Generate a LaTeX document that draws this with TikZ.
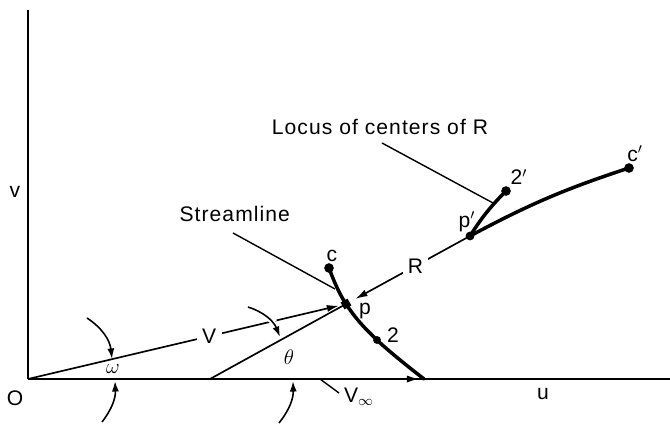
\documentclass[tikz,border=0pt]{standalone}
\usepackage{fontspec}
\setmainfont[LetterSpace=5]{Liberation Sans}
\usetikzlibrary{arrows.meta,positioning,calc}

\begin{document}
\begin{tikzpicture}[x=0.02cm, y=-0.02cm,
  axisv/.style={line width=1.7pt},
  axish/.style={line width=1.2pt},
  ray/.style={line width=0.95pt},
  vec/.style={ray, -{Latex[length=7pt,width=4pt]}},
  curve/.style={line width=2pt, line cap=round},
  dot/.style={circle, fill=black, inner sep=0pt, minimum size=5.5pt},
  lab/.style={font=\fontsize{12}{14}\selectfont, inner sep=1pt},
  gaplab/.style={lab, fill=white, inner sep=3pt},
  leader/.style={line width=0.8pt},
  turn/.style={line width=0.9pt, -{Latex[length=6pt,width=4pt]}},
]
\useasboundingbox (0,0) rectangle (670,435);

% axes and points (pixel units, y downwards)
\coordinate (O) at (28,379);
\coordinate (vtop) at (28,10);
\coordinate (uend) at (670,379);
\coordinate (foot) at (210,379);   % where the line through p and p' meets u
\coordinate (p) at (346,304);
\coordinate (pp) at (470,236);
\coordinate (vinf) at (421,379);
\coordinate (send) at (424,379);   % streamline reaches the u axis

\draw[axisv] (vtop) -- (O);
\draw[axish] (O) -- (uend);
\draw[vec, shorten >=1pt] (O) -- (vinf);

% velocity V and radius R
\draw[vec, shorten >=4pt] (O) -- node[gaplab, pos=0.57] (Vlab) {V} (p);
\draw[ray] (foot) -- (p);
\draw[vec, shorten >=6pt] (pp) -- node[gaplab, pos=0.44] (Rlab) {R} (p);

% streamline c - p - 2
\node[dot] (c) at (329,268) {};
\node[dot, minimum size=4.5pt] (two) at (377,340) {};
\draw[curve] plot[smooth, tension=0.7] coordinates {(c.center) (p) (two.center) (send)};
\node[fill=black, minimum size=4.5pt, inner sep=0pt, rotate=30] (pdot) at (p) {};

% locus of centers
\node[dot, minimum size=5pt] (ppdot) at (pp) {};
\node[dot] (twop) at (506,191) {};
\node[dot] (cp) at (629,168) {};
\draw[curve] (ppdot.center) to[bend left=5] (cp.center);
\draw[curve] (ppdot.center) to[bend left=6] (twop.center);

% labels
\node[lab] (clab) at (332,256) {c};
\node[lab] (plab) at (365,311) {p};
\node[lab] (twolab) at (393,335) {2};
\node[lab] (pplab) at (467,222) {p$'$};
\node[lab] (twoplab) at (519,177) {2$'$};
\node[lab] (cplab) at (635,154) {c$'$};
\node[lab] (Olab) at (15,398) {O};
\node[lab] (vlab) at (15,192) {v};
\node[lab] (ulab) at (543,394) {u};
\node[lab] (wlab) at (113,369) {$\omega$};
\node[lab] (thlab) at (289,357) {$\theta$};
\node[lab, anchor=west] (vinflab) at (342,397) {V$_\infty$};
\node[lab, anchor=east] (strlab) at (292,214) {Streamline};
\node[lab] (loclab) at (380,127) {Locus of centers of R};

% leaders
\coordinate (strA) at (233,233);
\coordinate (strB) at (335,289);
\coordinate (locA) at (382,143);
\coordinate (locB) at (493,203);
\coordinate (vinfA) at (320,379);
\coordinate (vinfB) at (339,393);
\draw[leader] (strA) -- (strB);
\draw[leader] (locA) -- (locB);
\draw[leader] (vinfA) -- (vinfB);

% angle markers
\coordinate (wA) at (87,318);
\coordinate (wB) at (112,359);
\coordinate (wC) at (102,422);
\coordinate (wD) at (115,381);
\coordinate (tA) at (248,307);
\coordinate (tB) at (280,337);
\coordinate (tC) at (279,423);
\coordinate (tD) at (293,381);
\draw[turn] (wA) to[bend left=25] (wB);
\draw[turn] (wC) to[bend right=20] (wD);
\draw[turn, preaction={draw=white, line width=4pt, -, shorten >=9pt}] (tA) to[bend left=25] (tB);
\draw[turn] (tC) to[bend right=20] (tD);

\end{tikzpicture}
\end{document}
